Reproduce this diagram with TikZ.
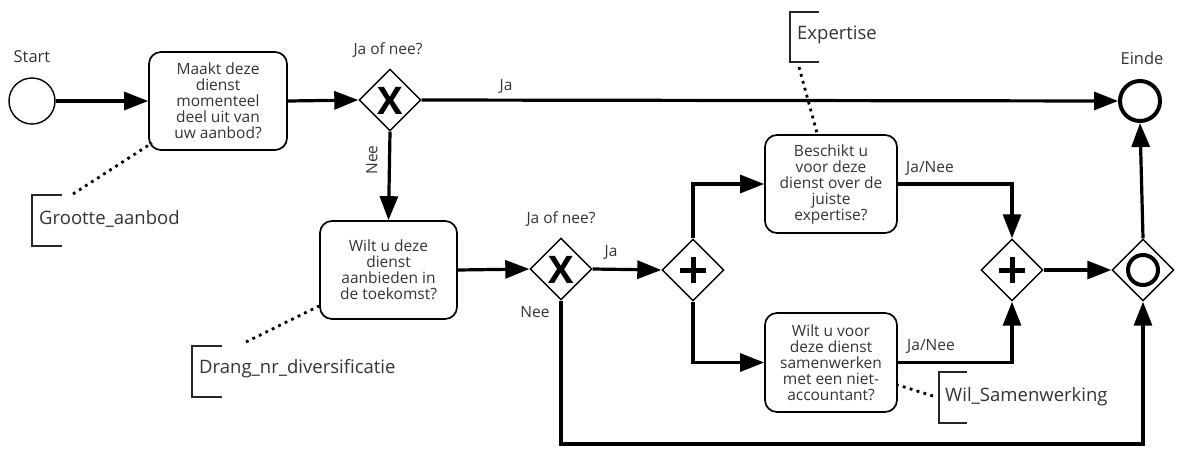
\documentclass[tikz,border=0pt]{standalone}
\usepackage{fontspec}
\setmainfont{Open Sans}
\usetikzlibrary{arrows.meta,shapes.geometric,calc}
\definecolor{txt}{HTML}{333333}
\tikzset{
  flow/.style={line width=3.2pt,-{Triangle[length=24pt,width=18pt]}},
  task/.style={draw,line width=1.7pt,rounded corners=12pt,align=center,text=txt,
    font=\fontsize{15.5}{16}\selectfont,inner sep=0pt},
  gate/.style={draw,diamond,line width=1.4pt,minimum width=62pt,minimum height=62pt,inner sep=0pt},
  lbl/.style={text=txt,font=\fontsize{15.5}{17}\selectfont,inner sep=0pt},
  evlbl/.style={text=txt,font=\fontsize{16.5}{18}\selectfont,inner sep=0pt},
  annot/.style={text=txt,font=\fontsize{18.5}{20}\selectfont,inner sep=0pt,anchor=west},
  assoc/.style={line width=2.8pt,dash pattern=on 2.8pt off 4.4pt},
  brack/.style={line width=1.6pt,draw=black!85},
  xm/.style={inner sep=0pt,font=\fontsize{38}{38}\selectfont\bfseries},
}
\newcommand{\plusmark}[1]{\draw[line width=5pt] ($(#1)+(-13,0)$) -- ($(#1)+(13,0)$);
  \draw[line width=5pt] ($(#1)+(0,-13)$) -- ($(#1)+(0,13)$);}
\begin{document}
\begin{tikzpicture}[x=1pt,y=-1pt]
\useasboundingbox (0,0) rectangle (1196,448);

% events
\node[circle,draw,line width=1.4pt,minimum size=46pt,inner sep=0pt] (start) at (32,101) {};
\node[evlbl] at (32,57) {Start};
\node[circle,draw,line width=4pt,minimum size=40pt,inner sep=0pt] (end) at (1140,101) {};
\node[evlbl] at (1142,58) {Einde};

% tasks
\node[task,minimum width=138pt,minimum height=98pt] (t1) at (218,101)
  {Maakt deze\\dienst\\momenteel\\deel uit van\\uw aanbod?};
\node[task,minimum width=137pt,minimum height=98pt] (t2) at (388.5,270)
  {Wilt u deze\\dienst\\aanbieden in\\de toekomst?};
\node[task,minimum width=132pt,minimum height=98pt] (t3) at (831,184)
  {Beschikt u\\voor deze\\dienst over de\\juiste\\expertise?};
\node[task,minimum width=132pt,minimum height=99pt] (t4) at (831,362.5)
  {Wilt u voor\\deze dienst\\samenwerken\\met een niet-\\accountant?};

% gateways
\node[gate] (g1) at (390,100) {};
\node[xm] (g1x) at (390,101) {X};
\node[lbl] at (388,50) {Ja of nee?};
\node[gate] (g2) at (561,269) {};
\node[xm] (g2x) at (561,270) {X};
\node[lbl] at (561,219) {Ja of nee?};
\node[gate] (p1) at (693,270) {};
\plusmark{p1}
\node[gate] (p2) at (1012,270) {};
\plusmark{p2}
\node[gate] (ig) at (1143,270) {};
\draw[line width=4pt] (ig) circle (15pt);

% flows
\draw[flow] (start) -- (t1);
\draw[flow] (t1.east) -- (g1.west);
\draw[flow] (g1.east) -- (end.west);
\node[lbl] at (506,86) {Ja};
\draw[flow] (g1.south) -- (t2.north);
\node[lbl,rotate=90] at (372,160) {Nee};
\draw[flow] (t2.east) -- (g2.west);
\draw[flow] (g2.east) -- (p1.west);
\node[lbl] at (611,252) {Ja};
\node[lbl] at (535,312) {Nee};
\draw[flow] (p1.north) |- (t3.west);
\draw[flow] (p1.south) |- (t4.west);
\draw[flow] (t3.east) -| (p2.north);
\node[lbl] at (930,168) {Ja/Nee};
\draw[flow] (t4.east) -| (p2.south);
\node[lbl] at (931,346) {Ja/Nee};
\draw[flow] (p2.east) -- (ig.west);
\draw[flow] (ig.north) -- (end.south);
\coordinate (nb) at (561,444);
\draw[flow] (g2.south) -- (nb) -| (ig.south);

% annotations
\draw[brack] (62,195) -- (32,195) -- (32,246) -- (62,246);
\node[annot] (a1) at (39,219) {Grootte\_aanbod};
\coordinate (a1c) at (73,194);
\draw[assoc] (a1c) -- (152,143);

\draw[brack] (222,346) -- (192,346) -- (192,397) -- (222,397);
\node[annot] (a2) at (199,369) {Drang\_nr\_diversificatie};
\coordinate (a2c) at (246,342);
\draw[assoc] (a2c) -- (319,306);

\draw[brack] (819,12) -- (790,12) -- (790,62) -- (819,62);
\node[annot] (a3) at (797,35) {Expertise};
\coordinate (a3c) at (799,67);
\draw[assoc] (a3c) -- (817,133);

\draw[brack] (967,372) -- (939,372) -- (939,423) -- (967,423);
\node[annot] (a4) at (945,397) {Wil\_Samenwerking};
\coordinate (a4c) at (933,396);
\draw[assoc] (a4c) -- (898,385);
\end{tikzpicture}
\end{document}
